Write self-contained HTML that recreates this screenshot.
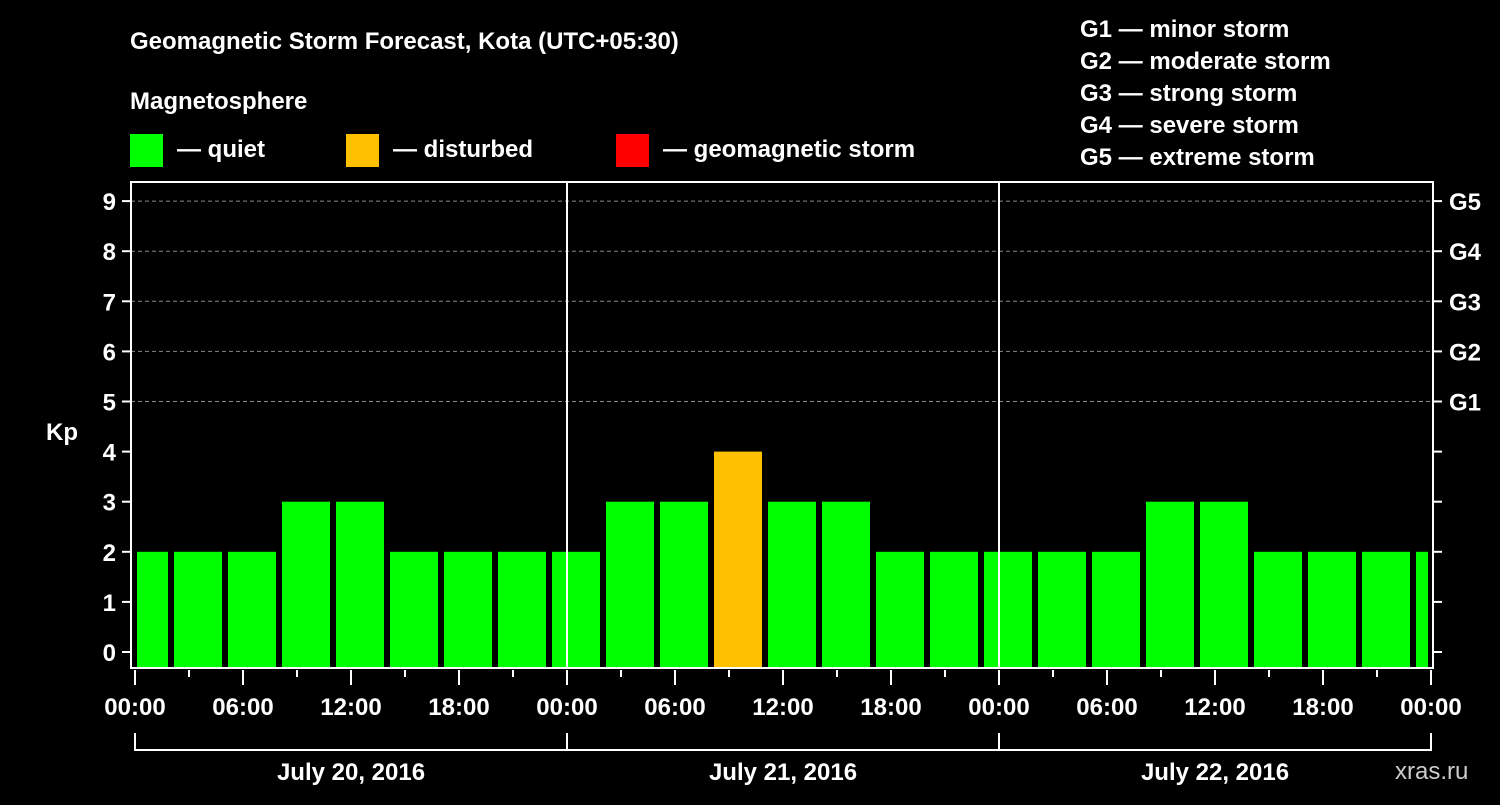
<!DOCTYPE html>
<html><head><meta charset="utf-8"><style>
html,body{margin:0;padding:0;background:#000;}
svg text{font-family:"Liberation Sans",sans-serif;font-weight:bold;fill:#fff;}
</style></head><body>
<svg width="1500" height="800" viewBox="0 0 1500 800">
<rect width="1500" height="800" fill="#000"/>
<text x="130" y="49" font-size="24">Geomagnetic Storm Forecast, Kota (UTC+05:30)</text>
<text x="130" y="109" font-size="24">Magnetosphere</text>
<g><rect x="130" y="134" width="33" height="33" fill="#00ff00"/><text x="177" y="157" font-size="24">— quiet</text></g>
<g><rect x="346" y="134" width="33" height="33" fill="#ffc000"/><text x="393" y="157" font-size="24">— disturbed</text></g>
<g><rect x="616" y="134" width="33" height="33" fill="#ff0000"/><text x="663" y="157" font-size="24">— geomagnetic storm</text></g>
<g font-size="24">
<text x="1080" y="37">G1 — minor storm</text>
<text x="1080" y="69">G2 — moderate storm</text>
<text x="1080" y="101">G3 — strong storm</text>
<text x="1080" y="133">G4 — severe storm</text>
<text x="1080" y="165">G5 — extreme storm</text>
</g>
<g id="grid"></g><g id="bars"></g><g id="axes"></g>
<text x="1395" y="779" font-size="24" fill="#ccc" style="fill:#ccc;font-weight:normal">xras.ru</text>
</svg>
<script>
const kpValues=[2,2,2,3,3,2,2,2,2,3,3,4,3,3,2,2,2,2,2,3,3,2,2,2,2];
const yTicks=[0,1,2,3,4,5,6,7,8,9];
const gLabels=["G1","G2","G3","G4","G5"];
const timeLabels=["00:00","06:00","12:00","18:00"];
const dayLabels=["July 20, 2016","July 21, 2016","July 22, 2016"];
const NS="http://www.w3.org/2000/svg";
const X0=135,PXH=18,L=131,R=1433,T=182,B=668;
const xs=h=>X0+h*PXH;
const ys=v=>652-v*50.1;
function mk(tag,attrs,parent,txt){const e=document.createElementNS(NS,tag);for(const k in attrs)e.setAttribute(k,attrs[k]);if(txt!==undefined)e.textContent=txt;parent.appendChild(e);return e;}
const grid=document.getElementById('grid'),bars=document.getElementById('bars'),axes=document.getElementById('axes');
for(let v=5;v<=9;v++){const l=mk('line',{x1:L,x2:R,y1:ys(v),y2:ys(v),stroke:'#888','stroke-dasharray':'4,3','stroke-width':1},grid);

}
kpValues.forEach((v,i)=>{const h0=-1+3*i;let x1=Math.max(xs(h0)+3,X0+2),x2=Math.min(xs(h0+3)-3,xs(72)-3);
const c=v>=5?'#ff0000':(v>=4?'#ffc000':'#00ff00');
const r=mk('rect',{x:x1,y:ys(v),width:x2-x1,height:B-ys(v),fill:c},bars);

});
for(let d=1;d<3;d++){const l=mk('line',{x1:xs(24*d),x2:xs(24*d),y1:T,y2:B,stroke:'#fff','stroke-width':2},axes);

}
const fr=mk('rect',{x:L,y:T,width:R-L,height:B-T,fill:'none',stroke:'#fff','stroke-width':2},axes);


yTicks.forEach(v=>{mk('line',{x1:122,x2:L,y1:ys(v),y2:ys(v),stroke:'#fff','stroke-width':2},axes);
mk('line',{x1:R,x2:1442,y1:ys(v),y2:ys(v),stroke:'#fff','stroke-width':2},axes);
const t=mk('text',{x:116,y:ys(v)+9,'font-size':24,'text-anchor':'end'},axes,String(v));

});
gLabels.forEach((g,i)=>{const t=mk('text',{x:1449,y:ys(5+i)+9,'font-size':24},axes,g);

});
const kp=mk('text',{x:62,y:440,'font-size':24,'text-anchor':'middle'},axes,'Kp');


for(let h=0;h<=72;h+=3){const major=h%6===0;mk('line',{x1:xs(h),x2:xs(h),y1:670,y2:major?685:677,stroke:'#fff','stroke-width':2},axes);
if(major){const t=mk('text',{x:xs(h),y:715,'font-size':24,'text-anchor':'middle'},axes,timeLabels[(h/6)%4]);

}}
mk('line',{x1:xs(0),x2:xs(72),y1:750,y2:750,stroke:'#fff','stroke-width':2},axes);
for(let d=0;d<=3;d++)mk('line',{x1:xs(24*d),x2:xs(24*d),y1:733,y2:751,stroke:'#fff','stroke-width':2},axes);
dayLabels.forEach((s,d)=>{const t=mk('text',{x:xs(24*d+12),y:780,'font-size':24,'text-anchor':'middle'},axes,s);

});
</script>
</body></html>
